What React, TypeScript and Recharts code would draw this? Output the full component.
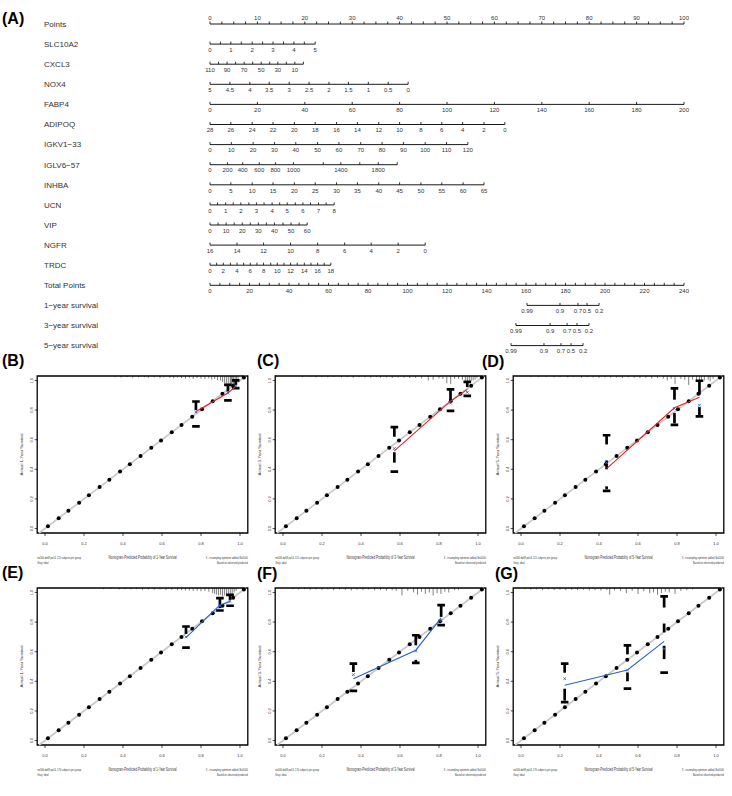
import React from 'react';
import {
  ScatterChart,
  ComposedChart,
  Scatter,
  XAxis,
  YAxis,
  ReferenceArea,
  ReferenceLine,
  ErrorBar,
  Label,
} from 'recharts';

const FONT = '"Liberation Sans", Arial, Helvetica, sans-serif';

// ---------------- Nomogram (A) ----------------
const rowNames = [
  'Points', 'SLC10A2', 'CXCL3', 'NOX4', 'FABP4', 'ADIPOQ', 'IGKV1\u221233', 'IGLV6\u221257',
  'INHBA', 'UCN', 'VIP', 'NGFR', 'TRDC', 'Total Points',
  '1\u2212year survival', '3\u2212year survival', '5\u2212year survival',
];
const rowIdx = [0, 1, 2, 3, 4, 5, 6, 7, 8, 9, 10, 11, 12, 13, 14, 15, 16];

const pointsAxisPts = [0, 2.5, 5, 7.5, 10, 12.5, 15, 17.5, 20, 22.5, 25, 27.5, 30, 32.5, 35, 37.5, 40, 42.5, 45, 47.5, 50, 52.5, 55, 57.5, 60, 62.5, 65, 67.5, 70, 72.5, 75, 77.5, 80, 82.5, 85, 87.5, 90, 92.5, 95, 97.5, 100];
const totalAxisPts = [0, 5, 10, 15, 20, 25, 30, 35, 40, 45, 50, 55, 60, 65, 70, 75, 80, 85, 90, 95, 100, 105, 110, 115, 120, 125, 130, 135, 140, 145, 150, 155, 160, 165, 170, 175, 180, 185, 190, 195, 200, 205, 210, 215, 220, 225, 230, 235, 240];

const slcLabels = ['0', '', '1', '', '2', '', '3', '', '4', '', '5'];
const slcPts = [0, 2.2, 4.4, 6.6, 8.9, 11.1, 13.3, 15.5, 17.7, 19.9, 22.2];
const cxclLabels = ['110', '', '90', '', '70', '', '50', '', '30', '', '10', ''];
const cxclPts = [0, 1.8, 3.6, 5.4, 7.2, 9.0, 10.8, 12.6, 14.3, 16.1, 17.9, 19.7];
const noxLabels = ['5', '4.5', '4', '3.5', '3', '2.5', '2', '1.5', '1', '0.5', '0'];
const noxPts = [0, 4.2, 8.4, 12.5, 16.7, 20.9, 25.1, 29.2, 33.4, 37.6, 41.8];
const fabpLabels = ['0', '20', '40', '60', '80', '100', '120', '140', '160', '180', '200'];
const fabpPts = [0, 10, 20, 30, 40, 50, 60, 70, 80, 90, 100];
const adipoqLabels = ['28', '26', '24', '22', '20', '18', '16', '14', '12', '10', '8', '6', '4', '2', '0'];
const adipoqPts = [0, 4.4, 8.9, 13.3, 17.8, 22.2, 26.7, 31.1, 35.6, 40.0, 44.5, 48.9, 53.3, 57.8, 62.2];
const igkvLabels = ['0', '10', '20', '30', '40', '50', '60', '70', '80', '90', '100', '110', '120'];
const igkvPts = [0, 4.5, 9.1, 13.6, 18.1, 22.7, 27.2, 31.8, 36.3, 40.8, 45.4, 49.9, 54.4];
const iglvLabels = ['0', '200', '400', '600', '800', '1000', '', '1400', '', '1800', ''];
const iglvPts = [0, 3.7, 6.9, 10.4, 13.8, 17.6, 23.9, 27.6, 31.6, 35.5, 39.5];
const inhbaLabels = ['0', '5', '10', '15', '20', '25', '30', '35', '40', '45', '50', '55', '60', '65'];
const inhbaPts = [0, 4.4, 8.9, 13.3, 17.8, 22.2, 26.7, 31.1, 35.6, 40.0, 44.5, 48.9, 53.4, 57.8];
const ucnLabels = ['0', '', '1', '', '2', '', '3', '', '4', '', '5', '', '6', '', '7', '', '8'];
const ucnPts = [0, 1.6, 3.3, 4.9, 6.5, 8.2, 9.8, 11.4, 13.1, 14.7, 16.3, 18.0, 19.6, 21.2, 22.9, 24.5, 26.2];
const vipLabels = ['0', '', '10', '', '20', '', '30', '', '40', '', '50', '', '60'];
const vipPts = [0, 1.7, 3.4, 5.1, 6.8, 8.5, 10.2, 11.9, 13.6, 15.4, 17.1, 18.8, 20.5];
const ngfrLabels = ['16', '14', '12', '10', '8', '6', '4', '2', '0'];
const ngfrPts = [0, 5.7, 11.3, 17.0, 22.7, 28.4, 34.0, 39.7, 45.4];
const trdcLabels = ['0', '', '2', '', '4', '', '6', '', '8', '', '10', '', '12', '', '14', '', '16', '', '18'];
const trdcPts = [0, 1.4, 2.8, 4.3, 5.7, 7.1, 8.5, 9.9, 11.3, 12.8, 14.2, 15.6, 17.0, 18.4, 19.9, 21.3, 22.7, 24.1, 25.5];
const survLabels = ['0.99', '0.9', '0.7', '0.5', '0.2'];
const surv1Tot = [160.5, 177.2, 186.3, 190.9, 197.0];
const surv3Tot = [154.9, 172.2, 180.8, 185.8, 191.9];
const surv5Tot = [152.4, 169.1, 177.7, 182.8, 188.9];

type NomoRow = { labels: string[]; pts: number[]; axis: 'pts' | 'tot'; above?: boolean };
const nomoRows: NomoRow[] = [
  { labels: pointsAxisPts.map((v) => (v % 10 === 0 ? String(v) : '')), pts: pointsAxisPts, axis: 'pts', above: true },
  { labels: slcLabels, pts: slcPts, axis: 'pts' },
  { labels: cxclLabels, pts: cxclPts, axis: 'pts' },
  { labels: noxLabels, pts: noxPts, axis: 'pts' },
  { labels: fabpLabels, pts: fabpPts, axis: 'pts' },
  { labels: adipoqLabels, pts: adipoqPts, axis: 'pts' },
  { labels: igkvLabels, pts: igkvPts, axis: 'pts' },
  { labels: iglvLabels, pts: iglvPts, axis: 'pts' },
  { labels: inhbaLabels, pts: inhbaPts, axis: 'pts' },
  { labels: ucnLabels, pts: ucnPts, axis: 'pts' },
  { labels: vipLabels, pts: vipPts, axis: 'pts' },
  { labels: ngfrLabels, pts: ngfrPts, axis: 'pts' },
  { labels: trdcLabels, pts: trdcPts, axis: 'pts' },
  { labels: totalAxisPts.map((v) => (v % 20 === 0 ? String(v) : '')), pts: totalAxisPts, axis: 'tot' },
  { labels: survLabels, pts: surv1Tot, axis: 'tot' },
  { labels: survLabels, pts: surv3Tot, axis: 'tot' },
  { labels: survLabels, pts: surv5Tot, axis: 'tot' },
];

// ---------------- Calibration panels (B-G) ----------------
const calTicks = [0, 0.2, 0.4, 0.6, 0.8, 1.0];
const diagVals = [0.015, 0.07, 0.12, 0.175, 0.225, 0.28, 0.33, 0.385, 0.435, 0.49, 0.545, 0.595, 0.65, 0.7, 0.755, 0.805, 0.86, 0.91, 0.965, 1.02];

type Group = { x: number; upper: number; upStop: number; lower: number; corr: number; app: number; mid: number[][] };

const groupsB: Group[] = [
  { x: 0.774, upper: 0.858, upStop: 0.8, lower: 0.69, corr: 0.787, app: 0.79, mid: [] },
  { x: 0.938, upper: 0.97, upStop: 0.925, lower: 0.865, corr: 0.915, app: 0.915, mid: [] },
  { x: 0.978, upper: 1.0, upStop: 0.97, lower: 0.948, corr: 0.962, app: 0.96, mid: [] },
];
const groupsC: Group[] = [
  { x: 0.571, upper: 0.685, upStop: 0.62, lower: 0.384, corr: 0.54, app: 0.525, mid: [[0.515, 0.445]] },
  { x: 0.859, upper: 0.94, upStop: 0.865, lower: 0.795, corr: 0.847, app: 0.86, mid: [] },
  { x: 0.945, upper: 0.99, upStop: 0.955, lower: 0.896, corr: 0.92, app: 0.94, mid: [] },
];
const groupsD: Group[] = [
  { x: 0.439, upper: 0.63, upStop: 0.568, lower: 0.255, corr: 0.444, app: 0.405, mid: [[0.46, 0.4], [0.285, 0.265]] },
  { x: 0.787, upper: 0.946, upStop: 0.87, lower: 0.7, corr: 0.81, app: 0.815, mid: [[0.78, 0.71]] },
  { x: 0.915, upper: 0.998, upStop: 0.905, lower: 0.757, corr: 0.833, app: 0.887, mid: [[0.82, 0.765]] },
];
const groupsE: Group[] = [
  { x: 0.723, upper: 0.77, upStop: 0.72, lower: 0.627, corr: 0.7, app: 0.695, mid: [] },
  { x: 0.897, upper: 0.962, upStop: 0.895, lower: 0.878, corr: 0.91, app: 0.916, mid: [] },
  { x: 0.949, upper: 0.984, upStop: 0.95, lower: 0.91, corr: 0.94, app: 0.939, mid: [] },
];
const groupsF: Group[] = [
  { x: 0.361, upper: 0.52, upStop: 0.463, lower: 0.335, corr: 0.445, app: 0.418, mid: [] },
  { x: 0.681, upper: 0.711, upStop: 0.643, lower: 0.524, corr: 0.605, app: 0.61, mid: [[0.545, 0.525]] },
  { x: 0.811, upper: 0.914, upStop: 0.835, lower: 0.779, corr: 0.81, app: 0.828, mid: [] },
];
const groupsG: Group[] = [
  { x: 0.224, upper: 0.52, upStop: 0.458, lower: 0.26, corr: 0.418, app: 0.373, mid: [[0.35, 0.27]] },
  { x: 0.546, upper: 0.643, upStop: 0.582, lower: 0.35, corr: 0.476, app: 0.476, mid: [[0.46, 0.4]] },
  { x: 0.734, upper: 0.973, upStop: 0.898, lower: 0.458, corr: 0.62, app: 0.67, mid: [[0.64, 0.55], [0.79, 0.73]] },
];

const rugB = [[0.36, 0.008], [0.39, 0.01], [0.42, 0.008], [0.45, 0.012], [0.48, 0.01], [0.51, 0.008], [0.53, 0.012], [0.56, 0.01], [0.59, 0.014], [0.61, 0.01], [0.64, 0.012], [0.66, 0.016], [0.68, 0.01], [0.7, 0.014], [0.72, 0.018], [0.74, 0.012], [0.76, 0.02], [0.78, 0.014], [0.8, 0.018], [0.82, 0.02], [0.84, 0.016], [0.855, 0.024], [0.87, 0.02], [0.885, 0.028], [0.9, 0.03], [0.91, 0.04], [0.92, 0.05], [0.93, 0.06], [0.94, 0.065], [0.95, 0.055], [0.955, 0.07], [0.96, 0.06], [0.967, 0.065], [0.975, 0.05], [0.982, 0.045], [0.99, 0.03]];
const rugC = [[0.1, 0.008], [0.14, 0.006], [0.17, 0.01], [0.2, 0.008], [0.23, 0.01], [0.26, 0.006], [0.3, 0.01], [0.33, 0.008], [0.36, 0.012], [0.39, 0.008], [0.42, 0.01], [0.45, 0.012], [0.48, 0.008], [0.5, 0.012], [0.53, 0.01], [0.56, 0.014], [0.59, 0.01], [0.62, 0.012], [0.65, 0.014], [0.68, 0.012], [0.71, 0.016], [0.745, 0.03], [0.77, 0.025], [0.8, 0.016], [0.82, 0.02], [0.84, 0.05], [0.86, 0.055], [0.88, 0.02], [0.9, 0.018], [0.92, 0.025], [0.935, 0.03], [0.945, 0.035], [0.955, 0.03], [0.965, 0.035], [0.975, 0.03], [0.985, 0.025], [0.995, 0.015]];
const rugD = [[0.05, 0.006], [0.09, 0.008], [0.13, 0.006], [0.17, 0.01], [0.2, 0.008], [0.24, 0.01], [0.27, 0.008], [0.31, 0.012], [0.34, 0.008], [0.37, 0.01], [0.4, 0.012], [0.43, 0.01], [0.46, 0.012], [0.49, 0.01], [0.52, 0.014], [0.55, 0.01], [0.58, 0.012], [0.61, 0.014], [0.64, 0.012], [0.67, 0.016], [0.7, 0.014], [0.73, 0.018], [0.75, 0.03], [0.77, 0.02], [0.79, 0.055], [0.82, 0.02], [0.84, 0.025], [0.86, 0.06], [0.88, 0.025], [0.9, 0.035], [0.915, 0.045], [0.925, 0.04], [0.94, 0.03], [0.96, 0.025], [0.97, 0.035], [0.985, 0.02]];
const rugE = [[0.3, 0.008], [0.34, 0.006], [0.38, 0.01], [0.41, 0.008], [0.44, 0.01], [0.47, 0.008], [0.5, 0.012], [0.53, 0.01], [0.56, 0.012], [0.59, 0.01], [0.62, 0.014], [0.65, 0.012], [0.68, 0.016], [0.7, 0.014], [0.72, 0.018], [0.74, 0.016], [0.76, 0.02], [0.78, 0.018], [0.8, 0.022], [0.82, 0.02], [0.84, 0.025], [0.86, 0.035], [0.87, 0.04], [0.88, 0.045], [0.89, 0.05], [0.9, 0.045], [0.91, 0.055], [0.92, 0.05], [0.93, 0.055], [0.94, 0.05], [0.95, 0.045], [0.96, 0.04], [0.97, 0.03], [0.98, 0.02]];
const rugF = [[0.05, 0.008], [0.08, 0.01], [0.11, 0.008], [0.14, 0.012], [0.17, 0.01], [0.2, 0.012], [0.23, 0.01], [0.26, 0.014], [0.29, 0.01], [0.32, 0.012], [0.35, 0.016], [0.38, 0.012], [0.41, 0.014], [0.44, 0.01], [0.47, 0.016], [0.5, 0.014], [0.53, 0.018], [0.56, 0.015], [0.58, 0.02], [0.61, 0.05], [0.64, 0.02], [0.67, 0.03], [0.69, 0.045], [0.71, 0.025], [0.73, 0.04], [0.75, 0.03], [0.77, 0.05], [0.79, 0.035], [0.81, 0.04], [0.83, 0.025], [0.85, 0.03], [0.88, 0.015], [0.9, 0.012]];
const rugG = [[0.02, 0.008], [0.05, 0.012], [0.08, 0.01], [0.11, 0.014], [0.14, 0.01], [0.17, 0.014], [0.2, 0.012], [0.23, 0.016], [0.26, 0.012], [0.29, 0.014], [0.32, 0.012], [0.35, 0.016], [0.38, 0.014], [0.41, 0.018], [0.44, 0.014], [0.455, 0.045], [0.48, 0.016], [0.51, 0.02], [0.54, 0.035], [0.57, 0.02], [0.6, 0.04], [0.63, 0.022], [0.66, 0.035], [0.68, 0.03], [0.7, 0.045], [0.72, 0.035], [0.74, 0.025], [0.76, 0.03], [0.79, 0.04], [0.82, 0.02], [0.85, 0.015], [0.88, 0.01]];

const RED = '#e3242b';
const BLUE = '#2a64c4';

const panels = [
  { key: 'B', left: 0, top: 362, year: 1, color: RED, groups: groupsB, rug: rugB, n: 'n=506 d=69 p=14, 115 subjects per group' },
  { key: 'C', left: 238, top: 362, year: 3, color: RED, groups: groupsC, rug: rugC, n: 'n=506 d=69 p=14, 115 subjects per group' },
  { key: 'D', left: 476, top: 362, year: 5, color: RED, groups: groupsD, rug: rugD, n: 'n=506 d=69 p=14, 115 subjects per group' },
  { key: 'E', left: 0, top: 574, year: 1, color: BLUE, groups: groupsE, rug: rugE, n: 'n=506 d=69 p=14, 170 subjects per group' },
  { key: 'F', left: 238, top: 574, year: 3, color: BLUE, groups: groupsF, rug: rugF, n: 'n=506 d=69 p=14, 170 subjects per group' },
  { key: 'G', left: 476, top: 574, year: 5, color: BLUE, groups: groupsG, rug: rugG, n: 'n=506 d=69 p=14, 170 subjects per group' },
];

const letters = [
  { t: '(A)', x: 2, y: 23.5 },
  { t: '(B)', x: 2, y: 366 },
  { t: '(C)', x: 257, y: 366 },
  { t: '(D)', x: 482, y: 367 },
  { t: '(E)', x: 2, y: 578 },
  { t: '(F)', x: 257, y: 579 },
  { t: '(G)', x: 495, y: 579 },
];

// ---------------- shapes ----------------
const Empty = () => <g />;

const NomoTick = (p: any) => {
  const { cx, cy, payload } = p;
  if (cx == null || cy == null) return <g />;
  return (
    <g>
      <line x1={cx} x2={cx} y1={cy} y2={cy - 2.5} stroke="#000" strokeWidth={0.8} />
      {payload.txt ? (
        <text x={cx} y={payload.above ? cy - 3.8 : cy + 7.7} textAnchor="middle" fontSize={6} fontFamily={FONT} fill="#333">
          {payload.txt}
        </text>
      ) : null}
    </g>
  );
};

const RowName = (p: any) => (
  <text x={p.x - 166} y={p.y + 2.8} fontSize={8} fontFamily={FONT} fill="#333">
    {rowNames[p.payload.value]}
  </text>
);

const Dot = (p: any) => <circle cx={p.cx} cy={p.cy} r={2} fill="#000" />;
const Cap = (p: any) => (
  <line x1={p.cx - 3.8} x2={p.cx + 3.8} y1={p.cy} y2={p.cy} stroke="#000" strokeWidth={2.7} />
);
const Cross = (p: any) => {
  const { cx, cy } = p;
  const s = 1.4;
  return (
    <path d={`M${cx - s},${cy - s}L${cx + s},${cy + s}M${cx - s},${cy + s}L${cx + s},${cy - s}`} stroke="#3568d4" strokeWidth={0.9} fill="none" />
  );
};

const RotTick = (p: any) => (
  <text
    x={p.x}
    y={p.y}
    transform={`rotate(-90 ${p.x} ${p.y})`}
    textAnchor="middle"
    fontSize={4}
    fontFamily={FONT}
    fill="#333"
  >
    {Number(p.payload.value).toFixed(1)}
  </text>
);

// condensed tiny text (the reference's panel captions are horizontally squeezed)
const Squeezed = ({ x, y, sx, size, anchor, children }: any) => (
  <g transform={`translate(${x} ${y}) scale(${sx} 1)`}>
    <text x={0} y={0} fontSize={size} textAnchor={anchor || 'start'} fontFamily={FONT} fill="#333">
      {children}
    </text>
  </g>
);

function Nomogram() {
  return (
    <div style={{ position: 'absolute', left: 0, top: 0 }}>
      <ScatterChart width={732} height={360} margin={{ top: 24, right: 48, bottom: 14.4, left: 43 }}>
        <XAxis xAxisId="pts" type="number" dataKey="x" domain={[0, 100]} hide />
        <XAxis xAxisId="tot" type="number" dataKey="x" domain={[0, 240]} hide />
        <YAxis
          yAxisId="row"
          type="number"
          dataKey="y"
          domain={[0, 16]}
          reversed
          width={167}
          ticks={rowIdx}
          interval={0}
          axisLine={false}
          tickLine={false}
          tickSize={0}
          tickMargin={0}
          tick={RowName}
        />
        {nomoRows.map((r, i) => (
          <Scatter
            key={'l' + i}
            xAxisId={r.axis}
            yAxisId="row"
            data={[{ x: r.pts[0], y: i }, { x: r.pts[r.pts.length - 1], y: i }]}
            line={{ stroke: '#000', strokeWidth: 0.9 }}
            shape={Empty}
            isAnimationActive={false}
          />
        ))}
        {nomoRows.map((r, i) => (
          <Scatter
            key={'t' + i}
            xAxisId={r.axis}
            yAxisId="row"
            data={r.pts.map((p, j) => ({ x: p, y: i, txt: r.labels[j], above: !!r.above }))}
            shape={NomoTick}
            isAnimationActive={false}
          />
        ))}
      </ScatterChart>
    </div>
  );
}

function CalPanel({ cfg }: { cfg: any }) {
  const { left, top, year, color, groups, rug, n } = cfg;
  const diag = diagVals.map((v) => ({ x: v, y: v }));
  const rugData = rug.map(([x, h]: number[]) => ({ x, y: 1.03, e: [h, 0] }));
  const segData = (groups as Group[]).flatMap((g) =>
    [[g.upper, g.upStop], ...g.mid].map(([a, b]) => ({ x: g.x, y: a, e: [a - b, 0] }))
  );
  const capData = (groups as Group[]).flatMap((g) => [
    { x: g.x, y: g.upper },
    { x: g.x, y: g.lower },
  ]);
  const lineData = (groups as Group[]).map((g) => ({ x: g.x, y: g.app }));
  const corrData = (groups as Group[]).map((g) => ({ x: g.x, y: g.corr }));
  const title = `Nomogram-Predicted Probability of ${year}-Year Survival`;
  const ylab = `Actual ${year}-Year Survival`;

  const Foot = (p: any) => {
    const vb = p.viewBox || { x: 0, y: 0, width: 0, height: 0 };
    return (
      <g>
        <Squeezed x={vb.x + vb.width / 2} y={vb.y + 25.5} sx={0.66} size={4.6} anchor="middle">{title}</Squeezed>
        <Squeezed x={vb.x} y={vb.y + 25.5} sx={0.72} size={3.3}>{n}</Squeezed>
        <Squeezed x={vb.x} y={vb.y + 30.5} sx={0.72} size={3.3}>Gray: ideal</Squeezed>
        <Squeezed x={vb.x + vb.width} y={vb.y + 25.5} sx={0.72} size={3.3} anchor="end">X - resampling optimism added, B=1000</Squeezed>
        <Squeezed x={vb.x + vb.width} y={vb.y + 30.5} sx={0.72} size={3.3} anchor="end">Based on observed-predicted</Squeezed>
      </g>
    );
  };
  const YLab = (p: any) => {
    const vb = p.viewBox || { x: 0, y: 0, width: 0, height: 0 };
    const x = vb.x + vb.width - 14;
    const y = vb.y + vb.height / 2;
    return (
      <text x={x} y={y} transform={`rotate(-90 ${x} ${y})`} textAnchor="middle" fontSize={4.3} fontFamily={FONT} fill="#333">
        {ylab}
      </text>
    );
  };

  return (
    <div style={{ position: 'absolute', left, top }}>
      <ComposedChart width={250} height={204} margin={{ top: 14, right: 2.2, bottom: 0, left: 0 }}>
        <XAxis
          type="number"
          dataKey="x"
          domain={[-0.04, 1.04]}
          allowDataOverflow
          ticks={calTicks}
          interval={0}
          axisLine={false}
          tickSize={3}
          tickMargin={6}
          tickLine={{ stroke: '#000', strokeWidth: 0.7 }}
          tick={{ fontSize: 4, fill: '#333', fontFamily: FONT }}
          tickFormatter={(v: number) => v.toFixed(1)}
          height={33}
        >
          <Label content={Foot} />
        </XAxis>
        <YAxis
          type="number"
          dataKey="y"
          domain={[-0.03, 1.03]}
          allowDataOverflow
          ticks={calTicks}
          interval={0}
          axisLine={false}
          tickSize={2.5}
          tickMargin={1.5}
          tickLine={{ stroke: '#000', strokeWidth: 0.7 }}
          tick={RotTick}
          width={37.2}
        >
          <Label content={YLab} />
        </YAxis>
        <ReferenceLine
          segment={[{ x: -0.03, y: -0.03 }, { x: 1.03, y: 1.03 }]}
          stroke="#c9c9c9"
          strokeWidth={1.6}
          ifOverflow="visible"
        />
        <Scatter data={diag} shape={Dot} isAnimationActive={false} />
        <Scatter data={rugData} shape={Empty} isAnimationActive={false}>
          <ErrorBar dataKey="e" direction="y" width={0} stroke="#000" strokeWidth={0.5} />
        </Scatter>
        <Scatter data={segData} shape={Empty} isAnimationActive={false}>
          <ErrorBar dataKey="e" direction="y" width={0} stroke="#000" strokeWidth={2.7} />
        </Scatter>
        <Scatter data={capData} shape={Cap} isAnimationActive={false} />
        <Scatter data={lineData} line={{ stroke: color, strokeWidth: 1.1 }} shape={Empty} isAnimationActive={false} />
        <Scatter data={corrData} shape={Cross} isAnimationActive={false} />
        <ReferenceArea
          x1={-0.04}
          x2={1.04}
          y1={-0.03}
          y2={1.03}
          fill="none"
          stroke="#000"
          strokeWidth={1.3}
          ifOverflow="visible"
        />
      </ComposedChart>
    </div>
  );
}

export default function App() {
  return (
    <div
      style={{
        position: 'absolute',
        left: 0,
        top: 0,
        width: 732,
        height: 796,
        background: '#fff',
        overflow: 'hidden',
        fontFamily: FONT,
      }}
    >
      <Nomogram />
      {panels.map((p) => (
        <CalPanel key={p.key} cfg={p} />
      ))}
      <svg width={732} height={796} style={{ position: 'absolute', left: 0, top: 0, pointerEvents: 'none' }}>
        {letters.map((l) => (
          <text key={l.t} x={l.x} y={l.y} fontSize={16} fontWeight="bold" fontFamily={FONT} fill="#000">
            {l.t}
          </text>
        ))}
      </svg>
    </div>
  );
}
